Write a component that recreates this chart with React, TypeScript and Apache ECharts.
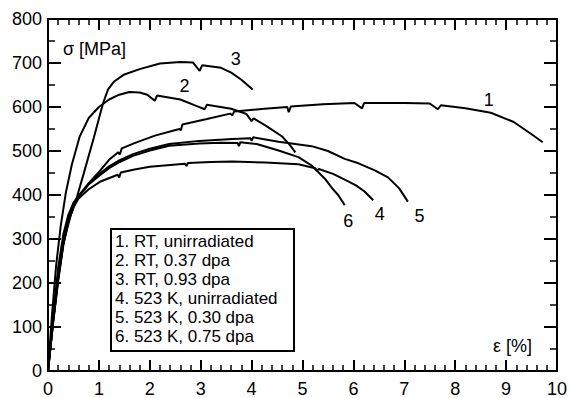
import React, { useEffect, useRef } from "react";
import * as echarts from "echarts";

// Curve data: [strain %, stress MPa]
const curve1 = [[0,0],[0.1,125],[0.2,235],[0.3,310],[0.4,355],[0.5,382],[0.6,398],[0.7,410],[0.85,433],[1.02,455],[1.2,480],[1.38,497],[1.41,492],[1.45,506],[1.7,518],[2.1,535],[2.58,550],[2.61,547],[2.64,560],[3.1,572],[3.58,585],[3.62,581],[3.66,590],[4.25,596],[4.7,600],[4.73,588],[4.77,601],[5.4,606],[6.02,609],[6.17,597],[6.21,609],[7.0,609],[7.5,608],[7.66,595],[7.72,604],[8.2,597],[8.7,587],[9.15,566],[9.5,538],[9.72,520]];
const curve2 = [[0,0],[0.08,130],[0.16,240],[0.25,330],[0.35,405],[0.47,470],[0.62,532],[0.8,575],[1.0,600],[1.2,617],[1.4,628],[1.6,634],[1.8,633],[1.95,628],[2.1,614],[2.14,626],[2.6,617],[2.9,603],[3.08,595],[3.12,605],[3.6,596],[3.9,584],[4.0,568],[4.04,574],[4.3,556],[4.6,533],[4.75,514],[4.86,497]];
const curve3 = [[0,0],[0.1,115],[0.2,215],[0.3,290],[0.45,355],[0.54,384],[0.7,448],[0.9,530],[1.08,608],[1.18,640],[1.3,658],[1.5,674],[1.8,686],[2.2,699],[2.6,702],[2.85,701],[2.98,682],[3.03,695],[3.4,689],[3.6,678],[3.8,662],[4.02,640]];
const curve4 = [[0,0],[0.1,110],[0.2,205],[0.3,285],[0.4,340],[0.5,372],[0.6,392],[0.8,413],[1.02,430],[1.37,446],[1.4,440],[1.43,451],[1.7,458],[2.0,464],[2.69,471],[2.72,466],[2.75,473],[3.2,475],[3.62,476],[4.27,474],[4.92,470],[5.25,461],[5.28,455],[5.32,459],[5.6,448],[5.83,435],[6.05,422],[6.22,408],[6.39,388]];
const curve5 = [[0,0],[0.1,112],[0.2,212],[0.3,292],[0.4,345],[0.5,376],[0.6,398],[0.8,427],[1.02,449],[1.2,465],[1.41,479],[1.67,493],[2.0,505],[2.38,516],[2.97,523],[3.62,527],[3.98,529],[4.0,523],[4.03,531],[4.53,521],[5.18,511],[5.5,500],[5.83,482],[6.1,472],[6.42,456],[6.68,440],[6.9,415],[7.07,385]];
const curve6 = [[0,0],[0.1,110],[0.2,208],[0.3,288],[0.4,342],[0.5,374],[0.6,396],[0.8,424],[1.02,445],[1.2,461],[1.41,475],[1.67,489],[2.0,501],[2.38,512],[2.97,517],[3.4,519],[3.73,518],[3.75,511],[3.78,520],[4.1,516],[4.53,501],[4.92,486],[5.18,467],[5.44,437],[5.6,413],[5.7,400],[5.83,377]];

const curves = [curve1, curve2, curve3, curve4, curve5, curve6];
const seriesNames = ["RT, unirradiated", "RT, 0.37 dpa", "RT, 0.93 dpa", "523 K, unirradiated", "523 K, 0.30 dpa", "523 K, 0.75 dpa"];
// curve number labels placed in data coordinates
const labelPos = [[8.66, 617], [2.68, 647], [3.69, 708], [6.52, 356], [7.3, 352], [5.9, 340]];

const xMin = 0, xMax = 10, xStep = 1;
const yMin = 0, yMax = 800, yStep = 100;

const FONT = "'Liberation Sans', Arial, Helvetica, sans-serif";

export default function App() {
  const ref = useRef<HTMLDivElement>(null);
  useEffect(() => {
    if (!ref.current) return;
    const chart = echarts.init(ref.current, null, { renderer: "svg" });
    const axisCommon = {
      type: "value",
      axisLine: { show: true, onZero: false, lineStyle: { color: "#000", width: 2 } },
      axisTick: { show: true, inside: true, length: 11, lineStyle: { color: "#000", width: 2 } },
      splitLine: { show: false },
    };
    const xCommon = {
      ...axisCommon, min: xMin, max: xMax, interval: xStep,
      minorTick: { show: true, splitNumber: 5, length: 6, lineStyle: { color: "#000", width: 1.5 } },
    };
    const yCommon = {
      ...axisCommon, min: yMin, max: yMax, interval: yStep,
      axisTick: { show: true, inside: true, length: 13, lineStyle: { color: "#000", width: 2 } },
      minorTick: { show: true, splitNumber: 2, length: 7, lineStyle: { color: "#000", width: 1.5 } },
    };
    const labelStyle = { color: "#000", fontSize: 18, fontFamily: FONT };
    const legendLines = seriesNames.map((n, i) => `${i + 1}. ${n}`);
    chart.setOption({
      animation: false,
      backgroundColor: "#fff",
      grid: { left: 48, right: 10, top: 19, bottom: 24 },
      xAxis: [
        { ...xCommon, position: "bottom", axisLabel: { ...labelStyle, margin: 9 } },
        { ...xCommon, position: "top", axisLabel: { show: false } },
      ],
      yAxis: [
        { ...yCommon, position: "left", axisLabel: { ...labelStyle, margin: 6 } },
        { ...yCommon, position: "right", axisLabel: { show: false } },
      ],
      series: curves.map((c, i) => ({
        type: "line",
        name: seriesNames[i],
        data: c,
        xAxisIndex: 0,
        yAxisIndex: 0,
        showSymbol: false,
        symbol: "none",
        lineStyle: { color: "#000", width: 2 },
        z: 3,
      })),
    });
    const curveLabels = labelPos.map((p, i) => {
      const pt = chart.convertToPixel({ gridIndex: 0 }, p) as number[];
      return {
        type: "text", x: pt[0], y: pt[1], z: 12,
        style: { text: String(i + 1), fill: "#000", font: `18px ${FONT}`, align: "center", verticalAlign: "middle" },
      };
    });
    chart.setOption({
      graphic: [
        { type: "text", left: 63, top: 40, style: { text: "σ [MPa]", fill: "#000", font: `18px ${FONT}` } },
        { type: "text", left: 493, top: 337, style: { text: "ε [%]", fill: "#000", font: `18px ${FONT}` } },
        {
          type: "rect", left: 110, top: 228, z: 10,
          shape: { width: 183, height: 122 },
          style: { fill: "#fff", stroke: "#000", lineWidth: 2 },
        },
        ...legendLines.map((t, i) => ({
          type: "text", left: 115, top: 232 + i * 19, z: 11,
          style: { text: t, fill: "#000", font: `17px ${FONT}`, lineHeight: 19 },
        })),
        ...curveLabels,
      ],
    });
    return () => chart.dispose();
  }, []);
  return <div ref={ref} style={{ position: "fixed", left: 0, top: 0, width: 570, height: 398, background: "#fff" }} />;
}
